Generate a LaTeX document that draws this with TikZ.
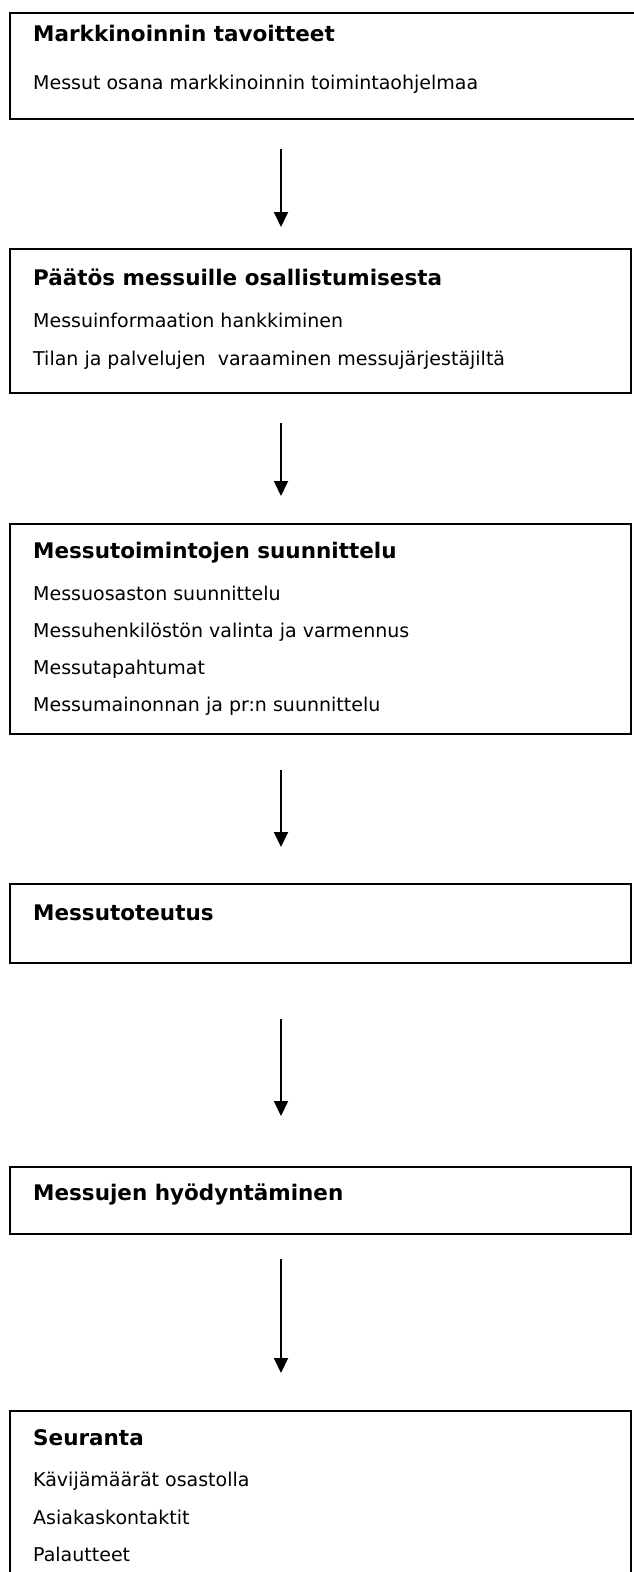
\documentclass[tikz,border=0pt]{standalone}
\usepackage{fontspec}
\setmainfont{DejaVu Sans}
\usetikzlibrary{arrows.meta}
\begin{document}
\begin{tikzpicture}[x=1pt,y=-1pt,
  stage/.style={draw, line width=1.5pt, inner sep=0pt, anchor=north west},
  head/.style={anchor=base west, inner sep=0pt, font=\fontsize{21.5}{25}\selectfont\bfseries},
  item/.style={anchor=base west, inner sep=0pt, font=\fontsize{19}{22}\selectfont},
  flow/.style={line width=1.9pt, -{Triangle[length=15pt,width=14pt]}}
]
\useasboundingbox (0,0) rectangle (633,1572);

% stage boxes (first runs past the right edge, last past the bottom)
\node[stage, minimum width=640pt, minimum height=106pt] (b1) at (9,12) {};
\node[stage, minimum width=621pt, minimum height=144pt] (b2) at (9,248) {};
\node[stage, minimum width=621pt, minimum height=210pt] (b3) at (9,523) {};
\node[stage, minimum width=621pt, minimum height=79pt]  (b4) at (9,883) {};
\node[stage, minimum width=621pt, minimum height=67pt]  (b5) at (9,1166) {};
\node[stage, minimum width=621pt, minimum height=180pt] (b6) at (9,1410) {};

% box texts
\node[head] (t1) at (33,41) {Markkinoinnin tavoitteet};
\node[item] (t1a) at (33,89) {Messut osana markkinoinnin toimintaohjelmaa};

\node[head] (t2) at (33,285) {Päätös messuille osallistumisesta};
\node[item] (t2a) at (33,327) {Messuinformaation hankkiminen};
\node[item] (t2b) at (33,365) {Tilan ja palvelujen\ \ varaaminen messujärjestäjiltä};

\node[head] (t3) at (33,558) {Messutoimintojen suunnittelu};
\node[item] (t3a) at (33,600) {Messuosaston suunnittelu};
\node[item] (t3b) at (33,637) {Messuhenkilöstön valinta ja varmennus};
\node[item] (t3c) at (33,674) {Messutapahtumat};
\node[item] (t3d) at (33,711) {Messumainonnan ja pr:n suunnittelu};

\node[head] (t4) at (33,920) {Messutoteutus};

\node[head] (t5) at (33,1200) {Messujen hyödyntäminen};

\node[head] (t6) at (33,1445) {Seuranta};
\node[item] (t6a) at (33,1486) {Kävijämäärät osastolla};
\node[item] (t6b) at (33,1524) {Asiakaskontaktit};
\node[item] (t6c) at (33,1561) {Palautteet};

% connectors
\coordinate (col) at (281,0);
\draw[flow, shorten <=29pt, shorten >=21pt] (b1.south -| col) -- (b2.north -| col);
\draw[flow, shorten <=29pt, shorten >=27pt] (b2.south -| col) -- (b3.north -| col);
\draw[flow, shorten <=35pt, shorten >=36pt] (b3.south -| col) -- (b4.north -| col);
\draw[flow, shorten <=55pt, shorten >=50pt] (b4.south -| col) -- (b5.north -| col);
\draw[flow, shorten <=24pt, shorten >=37pt] (b5.south -| col) -- (b6.north -| col);
\end{tikzpicture}
\end{document}
